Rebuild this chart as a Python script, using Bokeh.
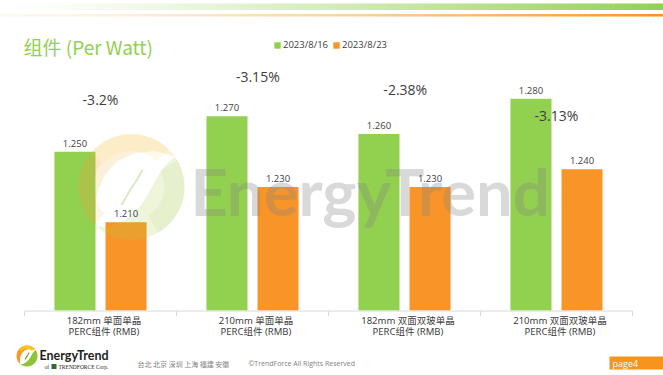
import numpy as np
from bokeh.plotting import figure
from bokeh.models import (ColumnDataSource, FactorRange, Range1d, CategoricalAxis,
                          Legend, LegendItem, LinearScale)
from bokeh.transform import dodge
from bokeh.layouts import column
from bokeh.core.properties import value
from bokeh.embed import file_html
from bokeh.resources import INLINE

# ---------------- data ----------------
CATEGORIES = [
    "182mm 单面单晶\nPERC组件 (RMB)",
    "210mm 单面单晶\nPERC组件 (RMB)",
    "182mm 双面双玻单晶\nPERC组件 (RMB)",
    "210mm 双面双玻单晶\nPERC组件 (RMB)",
]
SERIES = ["2023/8/16", "2023/8/23"]
PRICE_AUG16 = [1.250, 1.270, 1.260, 1.280]
PRICE_AUG23 = [1.210, 1.230, 1.230, 1.240]
PCT_CHANGE = ["-3.2%", "-3.15%", "-2.38%", "-3.13%"]
TITLE = "组件 (Per Watt)"
WATERMARK = "EnergyTrend"
FOOT_CITIES = "台北 北京 深圳 上海 福建 安徽"
FOOT_COPY = "©TrendForce All Rights Reserved"
FOOT_LOGO = "EnergyTrend"
FOOT_SUB = "TRENDFORCE Corp."
PAGE = "page4"

# ---------------- layout / style ----------------
W = 663
CAT_PX = 152.0
N = len(CATEGORIES)
RP = W / (CAT_PX * N) - 1.0               # factor range padding -> 152 px per category
SHIFT = -3.5 / CAT_PX                     # small shift of the bar groups
PCT_DX = [0.0, 0.035, 0.005, 0.0]         # category offsets of the % notes
PCT_Y = [99, 76, 89, 115]                 # screen rows of the % notes
GREEN = "#92D050"
ORANGE = "#F99528"
TXT = "#404040"
AXIS_C = "#D9D9D9"
HEAD_H = 18
FRAME_H = 299                              # frame spans screen rows 18..317
BOTTOM = 24
MAIN_H = FRAME_H + BOTTOM
FOOT_H = 375 - HEAD_H - MAIN_H
PX_PER_UNIT = 1771.0
BASE = 1.16                                # value axis baseline (bars start here)
Y_START = BASE - 6 / PX_PER_UNIT
Y_END = BASE + 293 / PX_PER_UNIT
DX = 0.168
BAR_W = 0.27
MIXED = "'Noto Sans', 'Noto Sans CJK SC'"


def SX(px):
    """screen column -> synthetic categorical coordinate"""
    return (px - W / 2.0) / CAT_PX + N / 2.0


def blend(hex_color, a):
    h = hex_color.lstrip("#")
    r, g, b = (int(h[i:i + 2], 16) for i in (0, 2, 4))
    f = lambda c: int(round(255 - a * (255 - c)))
    return "#%02x%02x%02x" % (f(r), f(g), f(b))


# logo geometry, unit circle, y pointing down
A_TOP, A_BOT = 35.0, 228.0
UPPER_EDGE = [(-0.679, 0.434), (-0.642, 0.094), (-0.509, -0.226), (-0.264, -0.491),
              (0.075, -0.642), (0.453, -0.679)]          # from bottom tip to top tip
LOWER_EDGE = [(0.660, -0.434), (0.509, -0.226), (0.358, 0.057), (0.170, 0.358),
              (-0.113, 0.623), (-0.434, 0.774)]           # from top tip to bottom tip
VEIN = [(0.208, -0.321), (0.075, -0.094), (-0.057, 0.113), (-0.189, 0.340)]


def arc(a0, a1, rr=1.0, n=40):
    th = np.radians(np.linspace(a0, a1, n))
    return [(rr * np.cos(t), -rr * np.sin(t)) for t in th]


def logo_parts(cx, cy, r):
    region_a = arc(A_TOP, A_BOT) + UPPER_EDGE
    region_b = arc(A_BOT, A_TOP + 360) + LOWER_EDGE
    band_top = arc(45, 140, 1.0, 30) + arc(140, 45, 0.68, 30)
    band_left = arc(140, 225, 1.0, 30) + arc(225, 140, 0.72, 30)
    band_right = arc(-60, 30, 1.0, 30) + arc(30, -60, 0.62, 30)
    out = {}
    for k, pts in dict(a=region_a, b=region_b, top=band_top, left=band_left,
                       right=band_right, vein=VEIN).items():
        out[k] = ([cx + r * x for x, _ in pts], [cy + r * y for _, y in pts])
    return out


def bare(fig):
    fig.xgrid.visible = False
    fig.ygrid.visible = False


# ---------------- header strip ----------------
head = figure(width=W, height=HEAD_H, x_range=Range1d(0, W), y_range=Range1d(HEAD_H, 0),
              x_axis_location=None, y_axis_location=None, toolbar_location=None,
              output_backend="svg", min_border=0, outline_line_color=None)
bare(head)
edges = np.linspace(0, W, 133)
mids = (edges[:-1] + edges[1:]) / 2
head.quad(left=edges[:-1], right=edges[1:] + 0.5, top=3, bottom=9.5,
          fill_color=[blend(GREEN, (m / W) ** 1.3) for m in mids], line_color=None)
head.quad(left=edges[:-1], right=edges[1:] + 0.5, top=13.5, bottom=16,
          fill_color=[blend("#F7941D", 0.08 + 0.92 * (m / W) ** 1.5) for m in mids],
          line_color=None)

# ---------------- main chart ----------------
src = ColumnDataSource(dict(
    cat=CATEGORIES, a=PRICE_AUG16, b=PRICE_AUG23,
    la=["%.3f" % v for v in PRICE_AUG16], lb=["%.3f" % v for v in PRICE_AUG23],
    pct=PCT_CHANGE, pct_x=[(c, d + SHIFT) for c, d in zip(CATEGORIES, PCT_DX)],
    pct_y=PCT_Y,
))

p = figure(x_range=FactorRange(factors=CATEGORIES, range_padding=RP),
           y_range=Range1d(Y_START, Y_END), width=W, height=MAIN_H,
           min_border=0, min_border_bottom=BOTTOM,
           x_axis_location=None, y_axis_location=None, toolbar_location=None,
           output_backend="svg", outline_line_color=None)
bare(p)
p.extra_y_ranges = {"py": Range1d(HEAD_H + FRAME_H, HEAD_H)}
p.extra_y_scales = {"py": LinearScale()}

cat_axis = CategoricalAxis(axis_line_color=None, major_tick_out=0, major_tick_in=0,
                           major_label_standoff=-3, major_label_text_font_size="9.5px",
                           major_label_text_font=MIXED,
                           major_label_text_color=TXT, major_label_text_line_height=0.9)
p.add_layout(cat_axis, "below")

r1 = p.vbar(x=dodge("cat", -DX + SHIFT, range=p.x_range), top="a", bottom=BASE,
            width=BAR_W, source=src, fill_color=GREEN, line_color=None)
r2 = p.vbar(x=dodge("cat", DX + SHIFT, range=p.x_range), top="b", bottom=BASE,
            width=BAR_W, source=src, fill_color=ORANGE, line_color=None)

# category base line with boundary ticks
bounds = [b + SHIFT for b in range(N + 1)]
p.segment(x0=[bounds[0]], x1=[bounds[-1]], y0=[311.5], y1=[311.5], y_range_name="py",
          line_color=AXIS_C, line_width=1)
p.segment(x0=bounds, x1=bounds, y0=[311.5] * len(bounds), y1=[316.5] * len(bounds),
          y_range_name="py", line_color=AXIS_C, line_width=1)

# watermark (drawn over the bars, translucent)
wm = logo_parts(131, 187, 53)
for key, col, al in [("a", "#F6B545", 0.20), ("b", "#A8CE45", 0.20),
                     ("top", "#F5D32E", 0.10), ("left", "#F08A2B", 0.10),
                     ("right", "#8CC43A", 0.08)]:
    xs, ys = wm[key]
    p.patch(x=[SX(v) for v in xs], y=ys, fill_color=col, fill_alpha=al, line_color=None,
            y_range_name="py")
vx, vy = wm["vein"]
p.line(x=[SX(v) for v in vx], y=vy, line_color="#7DB83A", line_alpha=0.3, line_width=2,
       y_range_name="py")
p.text(x=[SX(369.5)], y=[191.5], text=[WATERMARK], y_range_name="py",
       text_font=value("Lato"), text_font_style="bold", text_font_size="65px",
       text_color="#808080", text_alpha=0.3, text_align="center",
       text_baseline="middle")

# value labels
lab = dict(source=src, text_align="center", text_baseline="bottom", y_offset=-5,
           text_font=value("Open Sans"), text_font_size="9.5px", text_color=TXT)
p.text(x=dodge("cat", -DX + SHIFT, range=p.x_range), y="a", text="la", **lab)
p.text(x=dodge("cat", DX + SHIFT, range=p.x_range), y="b", text="lb", **lab)

# percentage notes
p.text(x="pct_x", y="pct_y", text="pct", source=src, y_range_name="py",
       text_align="center", text_baseline="middle", text_font=value("Open Sans"),
       text_font_size="14px", text_color=TXT)

# title
p.text(x=[SX(23)], y=[46], text=[TITLE], y_range_name="py",
       text_font=value("Noto Sans CJK SC"), text_font_size="19px", text_color=GREEN,
       text_baseline="middle")

legend = Legend(items=[LegendItem(label=SERIES[0], renderers=[r1]),
                       LegendItem(label=SERIES[1], renderers=[r2])],
                location=(273, 265), orientation="horizontal",
                glyph_width=8, glyph_height=8, label_height=10, label_standoff=2,
                spacing=4, padding=0, margin=0, border_line_color=None,
                background_fill_alpha=0, label_text_font="Open Sans",
                label_text_font_size="9.5px", label_text_color=TXT)
p.add_layout(legend)

# ---------------- footer ----------------
F0 = HEAD_H + MAIN_H
foot = figure(width=W, height=FOOT_H, x_range=Range1d(0, W),
              y_range=Range1d(F0 + FOOT_H, F0), x_axis_location=None,
              y_axis_location=None, toolbar_location=None, output_backend="svg",
              min_border=0, outline_line_color=None)
bare(foot)
lg = logo_parts(26.5, 355.5, 10.5)
for key, col in [("a", "#F39A2B"), ("b", "#8CC43A"), ("top", "#F5C518")]:
    xs, ys = lg[key]
    foot.patch(x=xs, y=ys, fill_color=col, line_color=None)
vx, vy = lg["vein"]
foot.line(x=vx, y=vy, line_color="#6DAA2C", line_width=1.2)
foot.text(x=[39], y=[355], text=[FOOT_LOGO], text_font=value("Lato"),
          text_font_style="bold", text_font_size="12.5px", text_color="#231F20",
          text_baseline="middle")
foot.text(x=[44], y=[366], text=["of"], text_font=value("Liberation Serif"),
          text_font_size="5.5px", text_color="#231F20", text_baseline="middle")
foot.quad(left=[51], right=[56], top=[363.5], bottom=[368.5], fill_color="#2E6B3A",
          line_color=None)
foot.text(x=[58], y=[366], text=[FOOT_SUB], text_font=value("Liberation Serif"),
          text_font_size="5.5px", text_color="#231F20", text_baseline="middle")
foot.text(x=[137], y=[363], text=[FOOT_CITIES], text_font=value("Noto Sans CJK SC"),
          text_font_size="7px", text_color="#7F7F7F", text_baseline="middle")
foot.text(x=[248], y=[363], text=[FOOT_COPY], text_font=value("Open Sans"),
          text_font_size="7px", text_color="#7F7F7F", text_baseline="middle")
foot.quad(left=[609], right=[663], top=[356], bottom=[369], fill_color="#F7941D",
          line_color=None)
foot.text(x=[612], y=[362.5], text=[PAGE], text_font=value("Open Sans"),
          text_font_size="9px", text_color="white", text_baseline="middle")

layout = column(head, p, foot, spacing=0)
open("out.html", "w").write(file_html(layout, INLINE))
